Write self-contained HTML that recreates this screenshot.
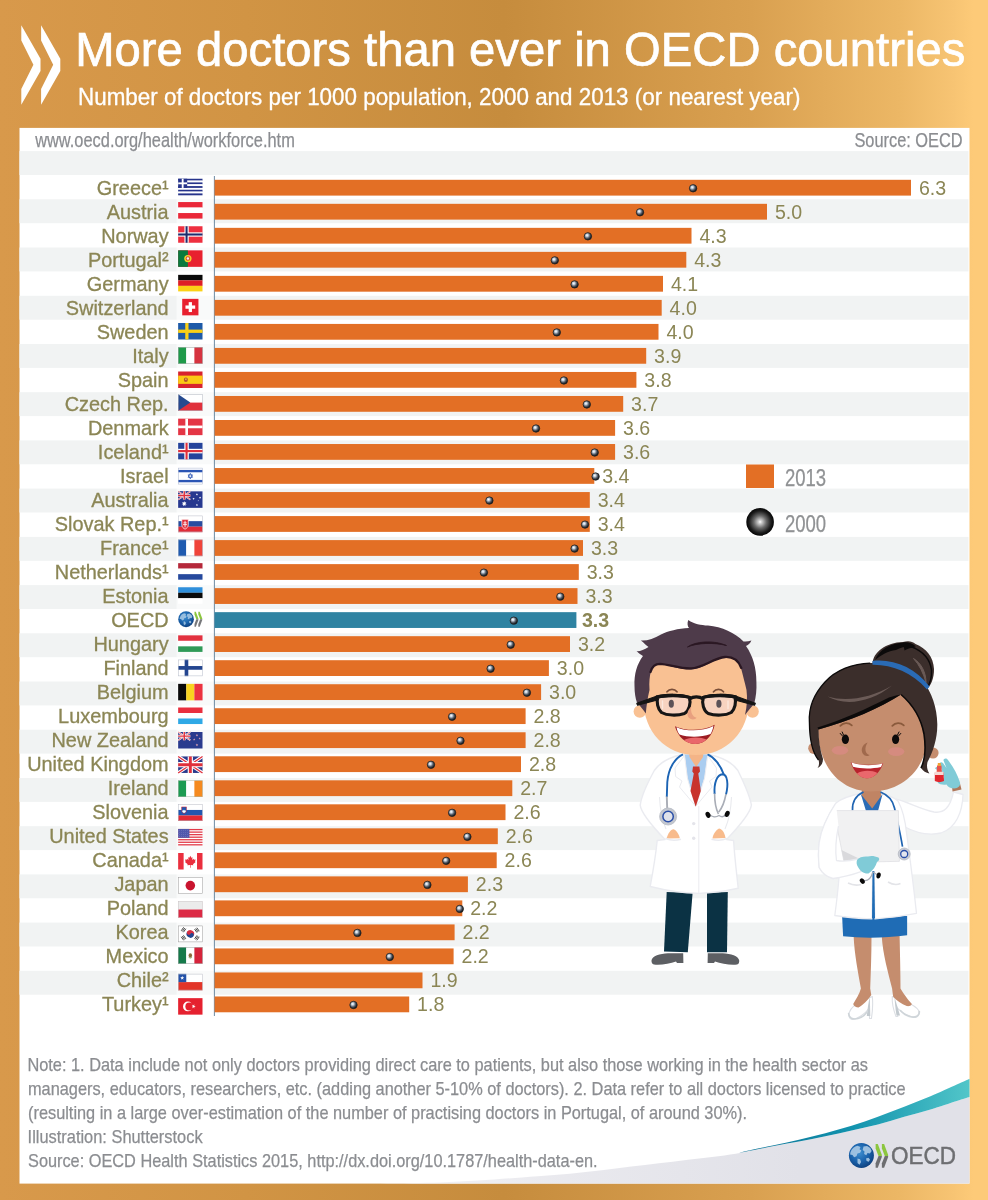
<!DOCTYPE html>
<html lang="en">
<head>
<meta charset="utf-8">
<title>More doctors than ever in OECD countries</title>
<style>
html,body{margin:0;padding:0;background:#d8994b;}
body{width:988px;height:1200px;overflow:hidden;}
svg{display:block;}
text{font-family:"Liberation Sans",sans-serif;}
.lab{font-size:19.9px;fill:#8b8655;text-anchor:end;stroke:#8b8655;stroke-width:0.3px;}
.val{font-size:19.6px;fill:#8b8655;}
.nar{fill:#8b8d91;stroke:#8b8d91;stroke-width:0.25px;}
</style>
</head>
<body>
<svg width="988" height="1200" viewBox="0 0 988 1200">
<defs>
<linearGradient id="bg" x1="0" y1="0" x2="1" y2="0">
<stop offset="0" stop-color="#d8994b"/>
<stop offset="0.25" stop-color="#d19444"/>
<stop offset="0.51" stop-color="#c68c3d"/>
<stop offset="0.76" stop-color="#d9a050"/>
<stop offset="0.91" stop-color="#ecb765"/>
<stop offset="0.965" stop-color="#f7c473"/>
<stop offset="0.985" stop-color="#fdca78"/>
<stop offset="1" stop-color="#fdca78"/>
</linearGradient>
<radialGradient id="dot" cx="0.38" cy="0.36" r="0.62">
<stop offset="0" stop-color="#ffffff"/>
<stop offset="0.25" stop-color="#c9d3de"/>
<stop offset="0.62" stop-color="#58606c"/>
<stop offset="1" stop-color="#14161a"/>
</radialGradient>
<radialGradient id="ball" cx="0.5" cy="0.5" r="0.5">
<stop offset="0" stop-color="#ffffff"/>
<stop offset="0.12" stop-color="#d0d0d0"/>
<stop offset="0.45" stop-color="#6a6a6a"/>
<stop offset="0.8" stop-color="#1c1c1c"/>
<stop offset="1" stop-color="#050505"/>
</radialGradient>
<linearGradient id="greyfade" gradientUnits="userSpaceOnUse" x1="330" y1="0" x2="800" y2="0"><stop offset="0" stop-color="#f6f6f8"/><stop offset="0.5" stop-color="#e9e9ee"/><stop offset="1" stop-color="#e1e1e8"/></linearGradient>
<linearGradient id="swoosh" x1="0" y1="0" x2="1" y2="0">
<stop offset="0" stop-color="#0d6f94"/>
<stop offset="0.5" stop-color="#1293ae"/>
<stop offset="1" stop-color="#52c6c9"/>
</linearGradient>
</defs>

<rect x="0" y="0" width="988" height="1200" fill="url(#bg)"/>
<g fill="#fff" stroke="#fff">
<path stroke="none" d="M21.3 25.3 L40.5 58.7 L40.5 70.9 L21.3 104.7 L21.3 89 L33.4 64.8 L21.3 40.5 Z"/>
<path stroke="none" d="M41.1 25.3 L60.3 58.7 L60.3 70.9 L41.1 104.7 L41.1 89 L53.2 64.8 L41.1 40.5 Z"/>
<text transform="translate(75.2 66.2) scale(1 1.035)" x="0" y="0" font-size="47.25" stroke-width="0.7">More doctors than ever in OECD countries</text>
<text transform="translate(78 104.7) scale(1 1.025)" x="0" y="0" font-size="22.42" stroke-width="0.3">Number of doctors per 1000 population, 2000 and 2013 (or nearest year)</text>
</g>

<rect x="19.5" y="127.9" width="950" height="1055.7" fill="#fff"/>
<rect x="19.5" y="151.1" width="949" height="23.9" fill="#f1f3f3"/>
<rect x="19.5" y="199.3" width="949" height="23.9" fill="#f1f3f3"/>
<rect x="19.5" y="247.5" width="949" height="23.9" fill="#f1f3f3"/>
<rect x="19.5" y="295.8" width="949" height="23.9" fill="#f1f3f3"/>
<rect x="19.5" y="344.0" width="949" height="23.9" fill="#f1f3f3"/>
<rect x="19.5" y="392.2" width="949" height="23.9" fill="#f1f3f3"/>
<rect x="19.5" y="440.4" width="949" height="23.9" fill="#f1f3f3"/>
<rect x="19.5" y="488.6" width="949" height="23.9" fill="#f1f3f3"/>
<rect x="19.5" y="536.9" width="949" height="23.9" fill="#f1f3f3"/>
<rect x="19.5" y="585.1" width="949" height="23.9" fill="#f1f3f3"/>
<rect x="19.5" y="633.3" width="949" height="23.9" fill="#f1f3f3"/>
<rect x="19.5" y="681.5" width="949" height="23.9" fill="#f1f3f3"/>
<rect x="19.5" y="729.7" width="949" height="23.9" fill="#f1f3f3"/>
<rect x="19.5" y="778.0" width="949" height="23.9" fill="#f1f3f3"/>
<rect x="19.5" y="826.2" width="949" height="23.9" fill="#f1f3f3"/>
<rect x="19.5" y="874.4" width="949" height="23.9" fill="#f1f3f3"/>
<rect x="19.5" y="922.6" width="949" height="23.9" fill="#f1f3f3"/>
<rect x="19.5" y="970.8" width="949" height="23.9" fill="#f1f3f3"/>
<text class="nar" x="35.2" y="146.8" font-size="20.8" textLength="259.6" lengthAdjust="spacingAndGlyphs">www.oecd.org/health/workforce.htm</text>
<text class="nar" x="854.4" y="146.8" font-size="20.8" textLength="108.2" lengthAdjust="spacingAndGlyphs">Source: OECD</text>
<rect x="213.8" y="176" width="1" height="840" fill="#5f7f99"/>
<rect x="214.6" y="179.80" width="696.4" height="15.8" fill="#e36f25"/>
<text class="lab" transform="translate(168.6 194.50) scale(1 1.02)">Greece¹</text>
<text class="val" transform="translate(918.9 194.50) scale(1 1.02)">6.3</text>
<circle cx="693.1" cy="188.30" r="3.7" fill="url(#dot)" stroke="#222" stroke-width="0.8"/>
<rect x="214.6" y="203.82" width="552.4" height="15.8" fill="#e36f25"/>
<text class="lab" transform="translate(168.6 218.52) scale(1 1.02)">Austria</text>
<text class="val" transform="translate(774.9 218.52) scale(1 1.02)">5.0</text>
<circle cx="640.0" cy="212.32" r="3.7" fill="url(#dot)" stroke="#222" stroke-width="0.8"/>
<rect x="214.6" y="227.84" width="476.9" height="15.8" fill="#e36f25"/>
<text class="lab" transform="translate(168.6 242.54) scale(1 1.02)">Norway</text>
<text class="val" transform="translate(699.4 242.54) scale(1 1.02)">4.3</text>
<circle cx="587.9" cy="236.34" r="3.7" fill="url(#dot)" stroke="#222" stroke-width="0.8"/>
<rect x="214.6" y="251.86" width="471.7" height="15.8" fill="#e36f25"/>
<text class="lab" transform="translate(168.6 266.56) scale(1 1.02)">Portugal²</text>
<text class="val" transform="translate(694.2 266.56) scale(1 1.02)">4.3</text>
<circle cx="554.8" cy="260.36" r="3.7" fill="url(#dot)" stroke="#222" stroke-width="0.8"/>
<rect x="214.6" y="275.88" width="448.4" height="15.8" fill="#e36f25"/>
<text class="lab" transform="translate(168.6 290.58) scale(1 1.02)">Germany</text>
<text class="val" transform="translate(670.9 290.58) scale(1 1.02)">4.1</text>
<circle cx="574.6" cy="284.38" r="3.7" fill="url(#dot)" stroke="#222" stroke-width="0.8"/>
<rect x="214.6" y="299.90" width="447.1" height="15.8" fill="#e36f25"/>
<text class="lab" transform="translate(168.6 314.60) scale(1 1.02)">Switzerland</text>
<text class="val" transform="translate(669.6 314.60) scale(1 1.02)">4.0</text>
<rect x="214.6" y="323.92" width="443.9" height="15.8" fill="#e36f25"/>
<text class="lab" transform="translate(168.6 338.62) scale(1 1.02)">Sweden</text>
<text class="val" transform="translate(666.4 338.62) scale(1 1.02)">4.0</text>
<circle cx="556.8" cy="332.42" r="3.7" fill="url(#dot)" stroke="#222" stroke-width="0.8"/>
<rect x="214.6" y="347.94" width="431.6" height="15.8" fill="#e36f25"/>
<text class="lab" transform="translate(168.6 362.64) scale(1 1.02)">Italy</text>
<text class="val" transform="translate(654.1 362.64) scale(1 1.02)">3.9</text>
<rect x="214.6" y="371.96" width="421.8" height="15.8" fill="#e36f25"/>
<text class="lab" transform="translate(168.6 386.66) scale(1 1.02)">Spain</text>
<text class="val" transform="translate(644.3 386.66) scale(1 1.02)">3.8</text>
<circle cx="563.9" cy="380.46" r="3.7" fill="url(#dot)" stroke="#222" stroke-width="0.8"/>
<rect x="214.6" y="395.98" width="408.6" height="15.8" fill="#e36f25"/>
<text class="lab" transform="translate(168.6 410.68) scale(1 1.02)">Czech Rep.</text>
<text class="val" transform="translate(631.1 410.68) scale(1 1.02)">3.7</text>
<circle cx="586.8" cy="404.48" r="3.7" fill="url(#dot)" stroke="#222" stroke-width="0.8"/>
<rect x="214.6" y="420.00" width="400.5" height="15.8" fill="#e36f25"/>
<text class="lab" transform="translate(168.6 434.70) scale(1 1.02)">Denmark</text>
<text class="val" transform="translate(623.0 434.70) scale(1 1.02)">3.6</text>
<circle cx="536.0" cy="428.50" r="3.7" fill="url(#dot)" stroke="#222" stroke-width="0.8"/>
<rect x="214.6" y="444.02" width="400.5" height="15.8" fill="#e36f25"/>
<text class="lab" transform="translate(168.6 458.72) scale(1 1.02)">Iceland¹</text>
<text class="val" transform="translate(623.0 458.72) scale(1 1.02)">3.6</text>
<circle cx="594.7" cy="452.52" r="3.7" fill="url(#dot)" stroke="#222" stroke-width="0.8"/>
<rect x="214.6" y="468.04" width="379.7" height="15.8" fill="#e36f25"/>
<text class="lab" transform="translate(168.6 482.74) scale(1 1.02)">Israel</text>
<text class="val" transform="translate(602.2 482.74) scale(1 1.02)">3.4</text>
<circle cx="595.6" cy="476.54" r="3.7" fill="url(#dot)" stroke="#222" stroke-width="0.8"/>
<rect x="214.6" y="492.06" width="375.2" height="15.8" fill="#e36f25"/>
<text class="lab" transform="translate(168.6 506.76) scale(1 1.02)">Australia</text>
<text class="val" transform="translate(597.7 506.76) scale(1 1.02)">3.4</text>
<circle cx="489.4" cy="500.56" r="3.7" fill="url(#dot)" stroke="#222" stroke-width="0.8"/>
<rect x="214.6" y="516.08" width="375.2" height="15.8" fill="#e36f25"/>
<text class="lab" transform="translate(168.6 530.78) scale(1 1.02)">Slovak Rep.¹</text>
<text class="val" transform="translate(597.7 530.78) scale(1 1.02)">3.4</text>
<circle cx="585.0" cy="524.58" r="3.7" fill="url(#dot)" stroke="#222" stroke-width="0.8"/>
<rect x="214.6" y="540.10" width="368.4" height="15.8" fill="#e36f25"/>
<text class="lab" transform="translate(168.6 554.80) scale(1 1.02)">France¹</text>
<text class="val" transform="translate(590.9 554.80) scale(1 1.02)">3.3</text>
<circle cx="574.6" cy="548.60" r="3.7" fill="url(#dot)" stroke="#222" stroke-width="0.8"/>
<rect x="214.6" y="564.12" width="364.2" height="15.8" fill="#e36f25"/>
<text class="lab" transform="translate(168.6 578.82) scale(1 1.02)">Netherlands¹</text>
<text class="val" transform="translate(586.7 578.82) scale(1 1.02)">3.3</text>
<circle cx="483.9" cy="572.62" r="3.7" fill="url(#dot)" stroke="#222" stroke-width="0.8"/>
<rect x="214.6" y="588.14" width="362.9" height="15.8" fill="#e36f25"/>
<text class="lab" transform="translate(168.6 602.84) scale(1 1.02)">Estonia</text>
<text class="val" transform="translate(585.4 602.84) scale(1 1.02)">3.3</text>
<circle cx="560.3" cy="596.64" r="3.7" fill="url(#dot)" stroke="#222" stroke-width="0.8"/>
<rect x="214.6" y="612.16" width="361.8" height="15.8" fill="#2f83a2"/>
<text class="lab" transform="translate(168.6 626.86) scale(1 1.02)">OECD</text>
<text class="val" transform="translate(581.9 626.86) scale(1 1.02)" font-weight="bold">3.3</text>
<circle cx="513.8" cy="620.66" r="3.7" fill="url(#dot)" stroke="#222" stroke-width="0.8"/>
<rect x="214.6" y="636.18" width="355.4" height="15.8" fill="#e36f25"/>
<text class="lab" transform="translate(168.6 650.88) scale(1 1.02)">Hungary</text>
<text class="val" transform="translate(577.9 650.88) scale(1 1.02)">3.2</text>
<circle cx="510.7" cy="644.68" r="3.7" fill="url(#dot)" stroke="#222" stroke-width="0.8"/>
<rect x="214.6" y="660.20" width="334.3" height="15.8" fill="#e36f25"/>
<text class="lab" transform="translate(168.6 674.90) scale(1 1.02)">Finland</text>
<text class="val" transform="translate(556.8 674.90) scale(1 1.02)">3.0</text>
<circle cx="490.6" cy="668.70" r="3.7" fill="url(#dot)" stroke="#222" stroke-width="0.8"/>
<rect x="214.6" y="684.22" width="326.5" height="15.8" fill="#e36f25"/>
<text class="lab" transform="translate(168.6 698.92) scale(1 1.02)">Belgium</text>
<text class="val" transform="translate(549.0 698.92) scale(1 1.02)">3.0</text>
<circle cx="526.9" cy="692.72" r="3.7" fill="url(#dot)" stroke="#222" stroke-width="0.8"/>
<rect x="214.6" y="708.24" width="311.0" height="15.8" fill="#e36f25"/>
<text class="lab" transform="translate(168.6 722.94) scale(1 1.02)">Luxembourg</text>
<text class="val" transform="translate(533.5 722.94) scale(1 1.02)">2.8</text>
<circle cx="452.1" cy="716.74" r="3.7" fill="url(#dot)" stroke="#222" stroke-width="0.8"/>
<rect x="214.6" y="732.26" width="311.0" height="15.8" fill="#e36f25"/>
<text class="lab" transform="translate(168.6 746.96) scale(1 1.02)">New Zealand</text>
<text class="val" transform="translate(533.5 746.96) scale(1 1.02)">2.8</text>
<circle cx="460.5" cy="740.76" r="3.7" fill="url(#dot)" stroke="#222" stroke-width="0.8"/>
<rect x="214.6" y="756.28" width="306.4" height="15.8" fill="#e36f25"/>
<text class="lab" transform="translate(168.6 770.98) scale(1 1.02)">United Kingdom</text>
<text class="val" transform="translate(528.9 770.98) scale(1 1.02)">2.8</text>
<circle cx="431.0" cy="764.78" r="3.7" fill="url(#dot)" stroke="#222" stroke-width="0.8"/>
<rect x="214.6" y="780.30" width="297.7" height="15.8" fill="#e36f25"/>
<text class="lab" transform="translate(168.6 795.00) scale(1 1.02)">Ireland</text>
<text class="val" transform="translate(520.2 795.00) scale(1 1.02)">2.7</text>
<rect x="214.6" y="804.32" width="290.9" height="15.8" fill="#e36f25"/>
<text class="lab" transform="translate(168.6 819.02) scale(1 1.02)">Slovenia</text>
<text class="val" transform="translate(513.4 819.02) scale(1 1.02)">2.6</text>
<circle cx="452.1" cy="812.82" r="3.7" fill="url(#dot)" stroke="#222" stroke-width="0.8"/>
<rect x="214.6" y="828.34" width="283.2" height="15.8" fill="#e36f25"/>
<text class="lab" transform="translate(168.6 843.04) scale(1 1.02)">United States</text>
<text class="val" transform="translate(505.7 843.04) scale(1 1.02)">2.6</text>
<circle cx="467.4" cy="836.84" r="3.7" fill="url(#dot)" stroke="#222" stroke-width="0.8"/>
<rect x="214.6" y="852.36" width="282.1" height="15.8" fill="#e36f25"/>
<text class="lab" transform="translate(168.6 867.06) scale(1 1.02)">Canada¹</text>
<text class="val" transform="translate(504.6 867.06) scale(1 1.02)">2.6</text>
<circle cx="446.2" cy="860.86" r="3.7" fill="url(#dot)" stroke="#222" stroke-width="0.8"/>
<rect x="214.6" y="876.38" width="253.3" height="15.8" fill="#e36f25"/>
<text class="lab" transform="translate(168.6 891.08) scale(1 1.02)">Japan</text>
<text class="val" transform="translate(475.8 891.08) scale(1 1.02)">2.3</text>
<circle cx="427.4" cy="884.88" r="3.7" fill="url(#dot)" stroke="#222" stroke-width="0.8"/>
<rect x="214.6" y="900.40" width="247.7" height="15.8" fill="#e36f25"/>
<text class="lab" transform="translate(168.6 915.10) scale(1 1.02)">Poland</text>
<text class="val" transform="translate(470.2 915.10) scale(1 1.02)">2.2</text>
<circle cx="459.8" cy="908.90" r="3.7" fill="url(#dot)" stroke="#222" stroke-width="0.8"/>
<rect x="214.6" y="924.42" width="240.0" height="15.8" fill="#e36f25"/>
<text class="lab" transform="translate(168.6 939.12) scale(1 1.02)">Korea</text>
<text class="val" transform="translate(462.5 939.12) scale(1 1.02)">2.2</text>
<circle cx="357.4" cy="932.92" r="3.7" fill="url(#dot)" stroke="#222" stroke-width="0.8"/>
<rect x="214.6" y="948.44" width="239.0" height="15.8" fill="#e36f25"/>
<text class="lab" transform="translate(168.6 963.14) scale(1 1.02)">Mexico</text>
<text class="val" transform="translate(461.5 963.14) scale(1 1.02)">2.2</text>
<circle cx="389.8" cy="956.94" r="3.7" fill="url(#dot)" stroke="#222" stroke-width="0.8"/>
<rect x="214.6" y="972.46" width="207.9" height="15.8" fill="#e36f25"/>
<text class="lab" transform="translate(168.6 987.16) scale(1 1.02)">Chile²</text>
<text class="val" transform="translate(430.4 987.16) scale(1 1.02)">1.9</text>
<rect x="214.6" y="996.48" width="194.6" height="15.8" fill="#e36f25"/>
<text class="lab" transform="translate(168.6 1011.18) scale(1 1.02)">Turkey¹</text>
<text class="val" transform="translate(417.1 1011.18) scale(1 1.02)">1.8</text>
<circle cx="353.5" cy="1004.98" r="3.7" fill="url(#dot)" stroke="#222" stroke-width="0.8"/>
<rect x="176.6" y="175.5" width="37.2" height="841" fill="#fff" opacity="0.6"/>
<g>
<g transform="translate(178.15 178.75) scale(1.0146 1.031)"><rect x="0" y="0.000" width="24" height="1.828" fill="#27348b"/><rect x="0" y="1.778" width="24" height="1.828" fill="#fff"/><rect x="0" y="3.556" width="24" height="1.828" fill="#27348b"/><rect x="0" y="5.333" width="24" height="1.828" fill="#fff"/><rect x="0" y="7.111" width="24" height="1.828" fill="#27348b"/><rect x="0" y="8.889" width="24" height="1.828" fill="#fff"/><rect x="0" y="10.667" width="24" height="1.828" fill="#27348b"/><rect x="0" y="12.444" width="24" height="1.828" fill="#fff"/><rect x="0" y="14.222" width="24" height="1.828" fill="#27348b"/><rect width="8.9" height="8.9" fill="#27348b"/><rect x="3.55" y="0" width="1.8" height="8.9" fill="#fff"/><rect x="0" y="3.55" width="8.9" height="1.8" fill="#fff"/></g>
<g transform="translate(178.15 202.05) scale(1.0146 1.031)"><rect x="0" y="0.000" width="24" height="5.383" fill="#ea2839"/><rect x="0" y="5.333" width="24" height="5.383" fill="#fff"/><rect x="0" y="10.667" width="24" height="5.383" fill="#ea2839"/></g>
<g transform="translate(178.15 226.25) scale(1.0146 1.031)"><rect width="24" height="16" fill="#ee2f3f"/><rect x="6.20" y="0" width="4.20" height="16" fill="#fff"/><rect x="0" y="5.90" width="24" height="4.20" fill="#fff"/><rect x="7.30" y="0" width="2.00" height="16" fill="#1f2d6e"/><rect x="0" y="7.00" width="24" height="2.00" fill="#1f2d6e"/></g>
<g transform="translate(178.15 250.35) scale(1.0146 1.031)"><rect width="24" height="16" fill="#e8212e"/><rect width="9.6" height="16" fill="#0a7a3e"/><circle cx="9.6" cy="8" r="3.6" fill="#f3d22b"/><circle cx="9.6" cy="8" r="2.2" fill="#d9472f"/><circle cx="9.6" cy="8" r="1.2" fill="#f4f4f4"/></g>
<g transform="translate(178.15 274.85) scale(1.0146 1.031)"><rect x="0" y="0.000" width="24" height="5.383" fill="#0a0a0a"/><rect x="0" y="5.333" width="24" height="5.383" fill="#de1f26"/><rect x="0" y="10.667" width="24" height="5.383" fill="#fbd116"/></g>
<g transform="translate(178.15 298.85) scale(1.0146 1.031)"><rect x="4" y="0" width="16" height="16" fill="#e8202f"/><rect x="10.4" y="3.2" width="3.2" height="9.6" fill="#fff"/><rect x="7.2" y="6.4" width="9.6" height="3.2" fill="#fff"/></g>
<g transform="translate(178.15 323.00) scale(1.0146 1.031)"><rect width="24" height="16" fill="#1e5aa8"/><rect x="7.00" y="0" width="3.20" height="16" fill="#f9cf17"/><rect x="0" y="6.40" width="24" height="3.20" fill="#f9cf17"/></g>
<g transform="translate(178.15 347.25) scale(1.0146 1.031)"><rect x="0.000" y="0" width="8.050" height="16" fill="#1f9a4a"/><rect x="8.000" y="0" width="8.050" height="16" fill="#fff"/><rect x="16.000" y="0" width="8.050" height="16" fill="#d63340"/><rect x="0.25" y="0.25" width="23.5" height="15.5" fill="none" stroke="#9aa3a0" stroke-width="0.5"/></g>
<g transform="translate(178.15 371.50) scale(1.0146 1.031)"><rect width="24" height="16" fill="#d8232e"/><rect y="4" width="24" height="8" fill="#fbc914"/><ellipse cx="7.6" cy="8" rx="2" ry="2.3" fill="#b5562c"/><circle cx="7.6" cy="7.4" r="0.9" fill="#e9a84a"/></g>
<g transform="translate(178.15 394.35) scale(1.0146 1.031)"><rect width="24" height="8" fill="#fff"/><rect y="8" width="24" height="8" fill="#e0303c"/><polygon points="0,0 12,8 0,16" fill="#264a8f"/><rect x="0.25" y="0.25" width="23.5" height="15.5" fill="none" stroke="#b0b6c0" stroke-width="0.5"/></g>
<g transform="translate(178.15 418.65) scale(1.0146 1.031)"><rect width="24" height="16" fill="#e43545"/><rect x="7.10" y="0" width="2.60" height="16" fill="#fff"/><rect x="0" y="6.70" width="24" height="2.60" fill="#fff"/></g>
<g transform="translate(178.15 442.85) scale(1.0146 1.031)"><rect width="24" height="16" fill="#24439b"/><rect x="6.10" y="0" width="4.40" height="16" fill="#fff"/><rect x="0" y="5.80" width="24" height="4.40" fill="#fff"/><rect x="7.25" y="0" width="2.10" height="16" fill="#e0303c"/><rect x="0" y="6.95" width="24" height="2.10" fill="#e0303c"/></g>
<g transform="translate(178.15 467.85) scale(1.0146 1.031)"><rect width="24" height="16" fill="#fff"/><rect y="2" width="24" height="2.3" fill="#2b55b4"/><rect y="11.7" width="24" height="2.3" fill="#2b55b4"/><polygon points="12,5.3 14.2,9.2 9.8,9.2" fill="none" stroke="#2b55b4" stroke-width="0.7"/><polygon points="12,10.7 14.2,6.8 9.8,6.8" fill="none" stroke="#2b55b4" stroke-width="0.7"/><rect x="0.25" y="0.25" width="23.5" height="15.5" fill="none" stroke="#a9b4cf" stroke-width="0.5"/></g>
<g transform="translate(178.15 491.35) scale(1.0146 1.031)"><rect width="24" height="16" fill="#27388f"/><g><rect width="12" height="8" fill="#2b3a8c"/><path d="M0 0L12 8 M12 0L0 8" stroke="#fff" stroke-width="1.60"/><path d="M0 0L12 8 M12 0L0 8" stroke="#e0303c" stroke-width="0.64"/><path d="M6 0V8 M0 4H12" stroke="#fff" stroke-width="2.56"/><path d="M6 0V8 M0 4H12" stroke="#e0303c" stroke-width="1.44"/></g><polygon points="6.00,9.40 6.56,10.83 8.03,10.38 7.27,11.71 8.53,12.58 7.02,12.81 7.13,14.34 6.00,13.30 4.87,14.34 4.98,12.81 3.47,12.58 4.73,11.71 3.97,10.38 5.44,10.83" fill="#fff"/><polygon points="18.50,1.90 18.74,2.50 19.36,2.31 19.04,2.88 19.57,3.24 18.93,3.34 18.98,3.99 18.50,3.55 18.02,3.99 18.07,3.34 17.43,3.24 17.96,2.88 17.64,2.31 18.26,2.50" fill="#fff"/><polygon points="18.50,12.10 18.74,12.70 19.36,12.51 19.04,13.08 19.57,13.44 18.93,13.54 18.98,14.19 18.50,13.75 18.02,14.19 18.07,13.54 17.43,13.44 17.96,13.08 17.64,12.51 18.26,12.70" fill="#fff"/><polygon points="15.20,6.10 15.44,6.70 16.06,6.51 15.74,7.08 16.27,7.44 15.63,7.54 15.68,8.19 15.20,7.75 14.72,8.19 14.77,7.54 14.13,7.44 14.66,7.08 14.34,6.51 14.96,6.70" fill="#fff"/><polygon points="21.60,5.10 21.84,5.70 22.46,5.51 22.14,6.08 22.67,6.44 22.03,6.54 22.08,7.19 21.60,6.75 21.12,7.19 21.17,6.54 20.53,6.44 21.06,6.08 20.74,5.51 21.36,5.70" fill="#fff"/><polygon points="19.80,8.40 19.98,8.76 20.37,8.81 20.09,9.09 20.15,9.49 19.80,9.30 19.45,9.49 19.51,9.09 19.23,8.81 19.62,8.76" fill="#fff"/></g>
<g transform="translate(178.15 515.65) scale(1.0146 1.031)"><rect x="0" y="0.000" width="24" height="5.383" fill="#fff"/><rect x="0" y="5.333" width="24" height="5.383" fill="#2a4da0"/><rect x="0" y="10.667" width="24" height="5.383" fill="#e12c38"/><path d="M3.6 3.6h6.4v5.2c0 2.4-1.8 3.6-3.2 4.3-1.4-.7-3.2-1.9-3.2-4.3z" fill="#e12c38" stroke="#fff" stroke-width="0.7"/><path d="M6.8 5v6.4M5.2 7h3.2M4.8 8.7h4" stroke="#fff" stroke-width="0.8" fill="none"/><rect x="0.25" y="0.25" width="23.5" height="15.5" fill="none" stroke="#b9bcc6" stroke-width="0.5"/></g>
<g transform="translate(178.15 539.65) scale(1.0146 1.031)"><rect x="0.000" y="0" width="8.050" height="16" fill="#1f5bb0"/><rect x="8.000" y="0" width="8.050" height="16" fill="#fff"/><rect x="16.000" y="0" width="8.050" height="16" fill="#f0443a"/><rect x="0.25" y="0.25" width="23.5" height="15.5" fill="none" stroke="#a8b2c4" stroke-width="0.5"/></g>
<g transform="translate(178.15 563.15) scale(1.0146 1.031)"><rect x="0" y="0.000" width="24" height="5.383" fill="#b5283a"/><rect x="0" y="5.333" width="24" height="5.383" fill="#fff"/><rect x="0" y="10.667" width="24" height="5.383" fill="#26499d"/></g>
<g transform="translate(178.15 587.25) scale(1.0146 1.031)"><rect x="0" y="0.000" width="24" height="5.383" fill="#2f8fdb"/><rect x="0" y="5.333" width="24" height="5.383" fill="#0a0a0a"/><rect x="0" y="10.667" width="24" height="5.383" fill="#fff"/></g>
<g transform="translate(178.15 610.95) scale(1.0146 1.031)"><defs><radialGradient id="gl" cx="0.42" cy="0.38" r="0.68"><stop offset="0" stop-color="#3f8fd0"/><stop offset="0.55" stop-color="#1a62ab"/><stop offset="1" stop-color="#0c3b78"/></radialGradient></defs><circle cx="7.8" cy="8" r="7.7" fill="url(#gl)"/><path d="M1.8 6.2c.8-2.200 2.400-3.600 4.200-4l1.800.8-.6 1.400 1.100.7-.7 1.500-1.600.4-.6 1.700-1.500.6-1-1.400-1.500-.200zM9 2.900l2.200-.4 2 1.400.9 1.800-1.100 1.500-1.500-.4-.7 1.500-1.400-.7.200-1.600-1.100-1zM5.400 10l1.600.5.600 1.700-1 1.600-1.200-1zM10.600 10l1.500-.5 1 1.100-.700 1.400-1.400-.400z" fill="#a9c9e4" opacity="0.85"/><g transform="translate(16.100 0.700) scale(0.620)"><path d="M0 0 L2.200 0 L6.200 10.600 L6.200 11.800 L2.900 11.800 L0 4.400 Z" fill="#8cc63f"/><path d="M2.900 11.800 L6.200 11.800 L6.200 13 L2.200 23.600 L0 23.600 L0 19.200 Z" fill="#77787b"/></g><g transform="translate(19.900 0.700) scale(0.620)"><path d="M0 0 L2.200 0 L6.200 10.600 L6.200 11.800 L2.900 11.800 L0 4.400 Z" fill="#8cc63f"/><path d="M2.900 11.800 L6.200 11.800 L6.200 13 L2.200 23.600 L0 23.600 L0 19.200 Z" fill="#77787b"/></g></g>
<g transform="translate(178.15 635.35) scale(1.0146 1.031)"><rect x="0" y="0.000" width="24" height="5.383" fill="#e2313f"/><rect x="0" y="5.333" width="24" height="5.383" fill="#fff"/><rect x="0" y="10.667" width="24" height="5.383" fill="#2f9a57"/></g>
<g transform="translate(178.15 659.65) scale(1.0146 1.031)"><rect width="24" height="16" fill="#fff"/><rect x="6.40" y="0" width="3.60" height="16" fill="#23458f"/><rect x="0" y="6.20" width="24" height="3.60" fill="#23458f"/><rect x="0.25" y="0.25" width="23.5" height="15.5" fill="none" stroke="#b4bac8" stroke-width="0.5"/></g>
<g transform="translate(178.15 683.85) scale(1.0146 1.031)"><rect x="0.000" y="0" width="8.050" height="16" fill="#0a0a0a"/><rect x="8.000" y="0" width="8.050" height="16" fill="#f9d320"/><rect x="16.000" y="0" width="8.050" height="16" fill="#ec3340"/></g>
<g transform="translate(178.15 707.50) scale(1.0146 1.031)"><rect x="0" y="0.000" width="24" height="5.383" fill="#e9303f"/><rect x="0" y="5.333" width="24" height="5.383" fill="#fff"/><rect x="0" y="10.667" width="24" height="5.383" fill="#2fa9e6"/></g>
<g transform="translate(178.15 732.00) scale(1.0146 1.031)"><rect width="24" height="16" fill="#2a3b8e"/><g><rect width="12" height="8" fill="#2b3a8c"/><path d="M0 0L12 8 M12 0L0 8" stroke="#fff" stroke-width="1.60"/><path d="M0 0L12 8 M12 0L0 8" stroke="#e0303c" stroke-width="0.64"/><path d="M6 0V8 M0 4H12" stroke="#fff" stroke-width="2.56"/><path d="M6 0V8 M0 4H12" stroke="#e0303c" stroke-width="1.44"/></g><polygon points="18.50,1.90 18.81,2.78 19.74,2.80 18.99,3.36 19.26,4.25 18.50,3.72 17.74,4.25 18.01,3.36 17.26,2.80 18.19,2.78" fill="#e9a9b4"/><polygon points="18.50,11.20 18.83,12.15 19.83,12.17 19.03,12.77 19.32,13.73 18.50,13.16 17.68,13.73 17.97,12.77 17.17,12.17 18.17,12.15" fill="#e9a9b4"/><polygon points="15.80,6.00 16.08,6.81 16.94,6.83 16.26,7.35 16.51,8.17 15.80,7.68 15.09,8.17 15.34,7.35 14.66,6.83 15.52,6.81" fill="#e9a9b4"/><polygon points="21.20,5.20 21.48,6.01 22.34,6.03 21.66,6.55 21.91,7.37 21.20,6.88 20.49,7.37 20.74,6.55 20.06,6.03 20.92,6.01" fill="#e9a9b4"/></g>
<g transform="translate(178.15 756.45) scale(1.0146 1.031)"><g><rect width="24" height="16" fill="#2b3a8c"/><path d="M0 0L24 16 M24 0L0 16" stroke="#fff" stroke-width="3.20"/><path d="M0 0L24 16 M24 0L0 16" stroke="#e0303c" stroke-width="1.28"/><path d="M12 0V16 M0 8H24" stroke="#fff" stroke-width="5.12"/><path d="M12 0V16 M0 8H24" stroke="#e0303c" stroke-width="2.88"/></g></g>
<g transform="translate(178.15 780.50) scale(1.0146 1.031)"><rect x="0.000" y="0" width="8.050" height="16" fill="#1c9b52"/><rect x="8.000" y="0" width="8.050" height="16" fill="#fff"/><rect x="16.000" y="0" width="8.050" height="16" fill="#f58a1f"/><rect x="0.25" y="0.25" width="23.5" height="15.5" fill="none" stroke="#a9b5aa" stroke-width="0.5"/></g>
<g transform="translate(178.15 804.45) scale(1.0146 1.031)"><rect x="0" y="0.000" width="24" height="5.383" fill="#fff"/><rect x="0" y="5.333" width="24" height="5.383" fill="#2257b0"/><rect x="0" y="10.667" width="24" height="5.383" fill="#e22a35"/><path d="M3.4 2.4h4.8v3.6c0 1.7-1.4 2.6-2.4 3-1-.4-2.4-1.3-2.4-3z" fill="#2257b0" stroke="#e22a35" stroke-width="0.5"/><path d="M3.9 6.6l1-1.4.9 1 .9-1 1 1.4c-.4.9-1.2 1.5-1.9 1.8-.7-.3-1.5-.9-1.9-1.8z" fill="#fff"/><rect x="0.25" y="0.25" width="23.5" height="15.5" fill="none" stroke="#b9bcc6" stroke-width="0.5"/></g>
<g transform="translate(178.15 828.95) scale(1.0146 1.031)"><rect width="24" height="16" fill="#fff"/><rect y="0.000" width="24" height="1.231" fill="#e23a48"/><rect y="2.462" width="24" height="1.231" fill="#e23a48"/><rect y="4.923" width="24" height="1.231" fill="#e23a48"/><rect y="7.385" width="24" height="1.231" fill="#e23a48"/><rect y="9.846" width="24" height="1.231" fill="#e23a48"/><rect y="12.308" width="24" height="1.231" fill="#e23a48"/><rect y="14.769" width="24" height="1.231" fill="#e23a48"/><rect width="11.1" height="8.6" fill="#5158ac"/><g fill="#7d83c4"><circle cx="1.4" cy="1.3" r="0.45"/><circle cx="3.3" cy="1.3" r="0.45"/><circle cx="5.3" cy="1.3" r="0.45"/><circle cx="7.2" cy="1.3" r="0.45"/><circle cx="9.2" cy="1.3" r="0.45"/><circle cx="1.4" cy="3.3" r="0.45"/><circle cx="3.3" cy="3.3" r="0.45"/><circle cx="5.3" cy="3.3" r="0.45"/><circle cx="7.2" cy="3.3" r="0.45"/><circle cx="9.2" cy="3.3" r="0.45"/><circle cx="1.4" cy="5.3" r="0.45"/><circle cx="3.3" cy="5.3" r="0.45"/><circle cx="5.3" cy="5.3" r="0.45"/><circle cx="7.2" cy="5.3" r="0.45"/><circle cx="9.2" cy="5.3" r="0.45"/><circle cx="1.4" cy="7.3" r="0.45"/><circle cx="3.3" cy="7.3" r="0.45"/><circle cx="5.3" cy="7.3" r="0.45"/><circle cx="7.2" cy="7.3" r="0.45"/><circle cx="9.2" cy="7.3" r="0.45"/></g></g>
<g transform="translate(178.15 853.00) scale(1.0146 1.031)"><rect width="24" height="16" fill="#fff"/><rect width="5.4" height="16" fill="#ea2f3e"/><rect x="18.6" width="5.4" height="16" fill="#ea2f3e"/><path d="M12 2.6l1 2 1.2-.5-.5 2.8 1.5-1.4.4 1 1.7-.3-.7 2 .7.5-2.7 2.2.4 1.1-2.7-.4v2.6h-.6v-2.6l-2.7.4.4-1.1-2.7-2.2.7-.5-.7-2 1.7.3.4-1 1.5 1.4-.5-2.8 1.200.500z" fill="#ea2f3e"/></g>
<g transform="translate(178.15 877.35) scale(1.0146 1.031)"><rect width="24" height="16" fill="#fff"/><circle cx="12" cy="8" r="4.7" fill="#c9142f"/><rect x="0.25" y="0.25" width="23.5" height="15.5" fill="none" stroke="#9a9a9a" stroke-width="0.5"/></g>
<g transform="translate(178.15 901.25) scale(1.0146 1.031)"><rect width="24" height="8" fill="#ebebeb"/><rect y="8" width="24" height="8" fill="#dc2a45"/><rect x="0.25" y="0.25" width="23.5" height="15.5" fill="none" stroke="#c9c2c4" stroke-width="0.5"/></g>
<g transform="translate(178.15 925.65) scale(1.0146 1.031)"><rect width="24" height="16" fill="#fff"/><path d="M8.3 8a3.7 3.7 0 0 1 7.4 0z" fill="#d62f42" transform="rotate(33 12 8)"/><path d="M8.3 8a3.7 3.7 0 0 0 7.4 0z" fill="#23478f" transform="rotate(33 12 8)"/><g transform="rotate(33 12 8)"><circle cx="10.15" cy="8" r="1.85" fill="#d62f42"/><circle cx="13.85" cy="8" r="1.85" fill="#23478f"/></g><g stroke="#222" stroke-width="0.8"><path d="M3.6 5.6l2.4-3.4M4.7 6.3l2.4-3.4M5.8 7l2.4-3.400" transform="translate(-0.6 -0.6)"/><path d="M16.400 12.400l2.400-3.400M17.500 13.100l2.400-3.400M18.600 13.800l2.400-3.400" transform="translate(-0.2 0.400)"/><path d="M16.400 3.600l2.400 3.400M17.500 2.900l2.400 3.400M18.600 2.200l2.400 3.400" transform="translate(-0.2 -0.2)"/><path d="M3.600 10.400l2.400 3.400M4.700 9.700l2.400 3.400M5.800 9l2.400 3.400" transform="translate(-0.600 0.400)"/></g><rect x="0.25" y="0.25" width="23.5" height="15.5" fill="none" stroke="#9a9a9a" stroke-width="0.5"/></g>
<g transform="translate(178.15 947.25) scale(1.0146 1.031)"><rect x="0.000" y="0" width="8.050" height="16" fill="#157a4a"/><rect x="8.000" y="0" width="8.050" height="16" fill="#fff"/><rect x="16.000" y="0" width="8.050" height="16" fill="#d6243b"/><ellipse cx="12" cy="8" rx="1.7" ry="2.1" fill="#8a6a3c"/><path d="M10.300 9.800q1.700 1.600 3.400 0" stroke="#6a8f3a" stroke-width="0.6" fill="none"/><rect x="0.25" y="0.25" width="23.5" height="15.5" fill="none" stroke="#9aa3a0" stroke-width="0.5"/></g>
<g transform="translate(178.15 973.85) scale(1.0146 1.031)"><rect width="24" height="8" fill="#fff"/><rect y="8" width="24" height="8" fill="#e23528"/><rect width="8" height="8" fill="#2452a8"/><polygon points="4.00,1.90 4.49,3.32 6.00,3.35 4.80,4.26 5.23,5.70 4.00,4.84 2.77,5.70 3.20,4.26 2.00,3.35 3.51,3.32" fill="#fff"/><rect x="0.25" y="0.25" width="23.5" height="15.5" fill="none" stroke="#b9bcc6" stroke-width="0.5"/></g>
<g transform="translate(178.15 998.15) scale(1.0146 1.031)"><rect width="24" height="16" fill="#e5212f"/><circle cx="9.6" cy="8" r="4.8" fill="#fff"/><circle cx="11" cy="8" r="3.9" fill="#e5212f"/><polygon points="15.85,6.00 15.88,7.51 17.30,8.00 15.88,8.49 15.85,10.00 14.94,8.80 13.50,9.23 14.36,8.00 13.50,6.77 14.94,7.20" fill="#fff"/></g>
</g>
<rect x="746" y="464.5" width="28" height="23.5" fill="#e36f25"/>
<circle cx="760.1" cy="521.9" r="13.8" fill="url(#ball)"/>
<text class="nar" x="784.9" y="485.9" font-size="23.8" textLength="41.2" lengthAdjust="spacingAndGlyphs" style="fill:#909294;stroke:#909294">2013</text>
<text class="nar" x="784.9" y="532.1" font-size="23.8" textLength="41.2" lengthAdjust="spacingAndGlyphs" style="fill:#909294;stroke:#909294">2000</text>
<g id="male">
<!-- trousers -->
<path d="M666.7 892 L692.6 893 L687.8 952.2 L664 951.6 Z" fill="#0b3244"/>
<path d="M707 893 L727.8 892 L727 952.2 L707 952.2 Z" fill="#0b3244"/>
<!-- shoes -->
<path d="M651.5 960.5 C652 956 660 953.6 668 953.2 L683.2 953.2 L683.4 963 L677 963 L676 961.6 C670 964 660 965.4 654 964.6 C652 964 651.4 962.4 651.500 960.500 Z" fill="#5d5f63"/>
<path d="M739.2 960.5 C738.7 956 730.7 953.6 722.7 953.2 L707.8 953.2 L707.6 963 L714 963 L715 961.6 C721 964 731 965.4 737 964.6 C739 964 739.3 962.4 739.200 960.500 Z" fill="#5d5f63"/>
<!-- coat -->
<path d="M682 754.5 C671 757 660 762 654.3 770.5 C648 782 641.5 796 640.2 805.2 C641 812 652 826 665 839.5 L657.2 840.5 C655.5 858 652.5 874 650.2 886.5 C664 890 682 893 698.8 893.4 C712 893 726 891 738.2 888.3 C736.5 872 734.5 856 733.6 840.5 L726.6 839.5 C739.5 826 750.5 812 751.4 805.2 C750 796 743.500 782 737.9 770.5 C732 762 721 757 708.500 754.500 Z" fill="#ffffff" stroke="#eaebf0" stroke-width="1.4" stroke-linejoin="round"/>
<!-- arm inner lines -->
<path d="M659.500 797 C660 808 662 820 666 829" fill="none" stroke="#e9eaee" stroke-width="1.1"/>
<path d="M731.500 797 C731 808 729 820 725 829" fill="none" stroke="#e9eaee" stroke-width="1.1"/>
<path d="M698.800 806 L698.800 893" fill="none" stroke="#ececf0" stroke-width="1"/>
<!-- shirt + neck -->
<path d="M684.600 754.500 L707.600 754.500 L704.500 778 L701 789 L695.700 806 L690.500 789 L687.400 778 Z" fill="#aacdf0"/>
<path d="M689 751 L703.500 751 L703 757 L696.100 767 L689.500 757 Z" fill="#f4b487"/>
<!-- lapels -->
<path d="M684.500 755.500 L687.400 778 L695.500 806 L679.500 787 L682 781 L675.600 776.500 L675 768 Z" fill="#ffffff" stroke="#eaebf0" stroke-width="1"/>
<path d="M707.700 755.500 L704.600 778 L695.900 806 L712 787 L709.500 781 L716 776.500 L716.500 768 Z" fill="#ffffff" stroke="#eaebf0" stroke-width="1"/>
<!-- tie -->
<path d="M693 766.600 L699.400 766.600 L700 771.600 L698.300 773.600 L700.800 791 L695.700 806.800 L690.500 791 L693.800 773.600 L692.300 771.600 Z" fill="#c8342d"/>
<!-- stethoscope -->
<path d="M683 754.300 C675 758 668.500 768 667.300 782 L666.800 797" fill="none" stroke="#1c64b4" stroke-width="1.900"/>
<path d="M666.800 796.500 L667.200 808.500" fill="none" stroke="#a9adb6" stroke-width="1.900"/>
<circle cx="668.100" cy="816.500" r="8.500" fill="#c3c7cf" stroke="#b6bac3" stroke-width="0.800"/>
<circle cx="668.100" cy="816.500" r="5.200" fill="#dfe2ea" stroke="#2a4fa8" stroke-width="1.500"/>
<path d="M707.500 754.300 C714 757 720.500 765 723.800 774.500" fill="none" stroke="#1c64b4" stroke-width="1.900"/>
<path d="M714.600 794 C713.800 783 717 774.600 722.500 774.300 C727.500 774.500 728.600 784 726 794.600" fill="none" stroke="#1c64b4" stroke-width="1.900"/>
<path d="M714.600 793.500 C714.600 802 716 809 718.400 814 M726 794 C724.500 802 722 808 718.800 812" fill="none" stroke="#a9adb6" stroke-width="1.600"/>
<path d="M709.500 814.600 C712 817 716 817.500 719 815.500 C721.500 817.300 724.500 816.500 726.500 814.300" fill="none" stroke="#a9adb6" stroke-width="1.400"/>
<ellipse cx="708" cy="814.800" rx="2.300" ry="3.200" transform="rotate(-25 708 814.800)" fill="#0a0a0a"/>
<ellipse cx="727.200" cy="813.900" rx="2.300" ry="3.200" transform="rotate(25 727.200 813.900)" fill="#0a0a0a"/>
<!-- buttons -->
<circle cx="693.700" cy="823.600" r="1.700" fill="#e4e4ea"/>
<circle cx="693.700" cy="838.300" r="1.700" fill="#e4e4ea"/>
<!-- hands + pockets -->
<path d="M666.500 838.600 C668 833 671 829 673.600 829.200 C676.500 830.500 679 834 679.800 838.300 Z" fill="#f8bb8c"/>
<path d="M712.500 838.500 C713 834 716 830 719 828.500 C721.500 828.500 724.500 832 725.500 838 Z" fill="#f8bb8c"/>
<path d="M665.500 838.600 C670 840.400 676 840.600 681 839.200" fill="none" stroke="#eaebf0" stroke-width="1.600"/>
<path d="M711.500 839.200 C716.500 840.600 722.500 840.400 727 838.600" fill="none" stroke="#eaebf0" stroke-width="1.600"/>
<!-- ears -->
<circle cx="639.800" cy="711.500" r="6.200" fill="#f9c193"/>
<circle cx="752.600" cy="711.500" r="6.200" fill="#f9c193"/>
<!-- face -->
<path d="M644 672 C644 655 668 650 696 650 C724 650 748 655 748 672 L749 700 C749 732 726 755 696 755 C666 755 643.500 732 643.500 700 Z" fill="#f9c193"/>
<!-- hair -->
<path d="M688.300 619.900 C687 623 687.500 626 689 628 C678 628.500 668 631 661 634.500 C654 638.500 647 641 640.900 640.500 C644 643 646.500 645.500 648.500 647 C644 650 639.500 651.500 636.600 651.100 C639 653.500 641 655 643 656 C637 664 634 674 634.500 686 C634.500 693 635.500 698.500 636.800 702 C640 706 643.500 710 645.800 713.500 C646.500 706 647.500 698 649.500 690 C649 682 649.600 676 651 671 C652.500 667 655 664.500 659 664 C668 664.500 680 670 691 669.500 C703 669 713 659 725 657.500 C733 657 738.500 661 741 668 C743 676 745 683 746.500 690 C747.500 698 747 706 745 715 C748 711 751.500 707 754.200 703.500 C756 697 756.800 690 756.400 682 C756.400 668 753 656 746 646 C748.500 645 750.500 643 751.400 640.500 C748.500 641.500 746 641.800 743.500 641.500 C735 632.500 722 627 708 625.500 C701 625 694 624 688.300 619.900 Z" fill="#4e3b4a"/>
<path d="M687.500 647 C695 641.300 714 639.800 726.500 645.500 C714 642.300 697 642.800 687.500 647 Z" fill="#2a1722" stroke="#2a1722" stroke-width="0.900" stroke-linejoin="round"/>
<path d="M650.500 672 C652 666.500 655.500 663.800 660 663.800 C669 664.300 680 668.800 691 668.400 C703 667.900 713 658.300 725 657 C733 656.600 738.500 660.600 741.300 668" fill="none" stroke="#2a1722" stroke-width="2.300" stroke-linecap="round"/>
<!-- eyebrows -->
<path d="M667 691.800 C669.500 688.600 674.500 688.600 677 691.800" fill="none" stroke="#7a4e38" stroke-width="1.700" stroke-linecap="round"/>
<path d="M713.500 691.800 C716 688.600 721 688.600 723.500 691.800" fill="none" stroke="#7a4e38" stroke-width="1.700" stroke-linecap="round"/>
<!-- glasses -->
<path d="M636.800 703.200 L657 696 L657.500 700 L637.600 705.200 Z M755.300 703.200 L735.500 696 L735 700 L754.500 705.200 Z" fill="#151515" stroke="#151515" stroke-width="1.200" stroke-linejoin="round"/>
<path d="M657.800 697.200 C665 694.700 682 694.900 689.300 697.400 C691.300 703 689 711 684.500 713.500 C677 716 667 715.500 661.500 712.500 C657.700 709 656.300 702 657.800 697.200 Z" fill="#f7d3c0" stroke="#151515" stroke-width="3.100" stroke-linejoin="round"/>
<path d="M734.900 697.200 C727.700 694.700 710.700 694.900 703.400 697.400 C701.400 703 703.700 711 708.200 713.500 C715.700 716 725.700 715.500 731.200 712.500 C735 709 736.400 702 734.900 697.200 Z" fill="#f7d3c0" stroke="#151515" stroke-width="3.100" stroke-linejoin="round"/>
<path d="M655.800 695.600 C665 692.900 683 693.200 691 696.200 L690.500 699 C682 696.800 665 696.600 656.500 698.800 Z M736.900 695.600 C727.700 692.900 709.700 693.200 701.700 696.200 L702.200 699 C710.700 696.800 727.700 696.600 736.200 698.800 Z" fill="#151515"/>
<path d="M689.500 699 C693.500 696.200 699.200 696.200 703.200 699" stroke="#151515" stroke-width="3.200" fill="none"/>
<ellipse cx="671.300" cy="703.700" rx="2.600" ry="4" fill="#5b5258"/>
<ellipse cx="718.900" cy="703.700" rx="2.600" ry="4" fill="#5b5258"/>
<path d="M662.500 701 L662.500 708.500 M728 701 L728 708.500" stroke="#fdeee6" stroke-width="1.300" stroke-linecap="round" opacity="0.8"/>
<!-- nose -->
<path d="M691.300 706.500 C686.500 711 686.300 716.500 690.300 718.800 C692.800 720 695.300 719.400 696.600 717.800 C692.600 716.800 690.300 712.500 691.300 706.500 Z" fill="#e8a07f"/>
<!-- mouth -->
<path d="M674.900 726.200 C686 731.500 704 731 714.700 724.800 C712.500 736 705 743.800 695.600 744 C686 744 678 737 674.900 726.200 Z" fill="#9c1c22"/>
<path d="M676.500 727.200 C687 731.800 703 731.400 713.400 726 C712.800 729.500 711.800 732 710.500 734 C701 737.500 688 737.500 679.500 734.500 C678 732.500 677 730 676.500 727.200 Z" fill="#ffffff"/>
<path d="M684 740 C689 736.800 701 736.600 706.500 739.600 C703.500 742.500 699.500 744 695.600 744 C691 744 687 742.500 684 740 Z" fill="#e9676b"/>
</g>
<g id="female">
<!-- shoes -->
<path d="M849.500 1012 C851 1007 856 1004 862 1001 C866 999 870 997 872.300 996.600 C873 1003 872.600 1011 871.400 1018.500 L869.600 1018.500 L868.800 1008.500 C865 1014 858 1018.800 852 1019.400 C849 1019 848.200 1015.500 849.500 1012 Z" fill="#ffffff" stroke="#dcdfe4" stroke-width="1.100"/>
<path d="M918.600 1010.500 C916 1005.500 909 1003 903 1000.500 C899 998.500 895 997 892.300 996.600 C891.800 1003 893.500 1010 896 1016.500 L897.800 1016.500 L897.500 1008 C901.500 1013 909 1016.800 915.500 1017.400 C918.500 1017 919.800 1013.800 918.600 1010.500 Z" fill="#ffffff" stroke="#dcdfe4" stroke-width="1.100"/>
<path d="M869.800 997 L870.300 1016 L866.800 1016 C867.500 1009 868.500 1002 869.800 997 Z" fill="#c3cacf"/>
<path d="M894.500 997 L900 1015.500 L896.500 1015.500 C895.500 1009 894.800 1003 894.500 997 Z" fill="#c3cacf"/>
<path d="M848.600 1013.500 C849 1018 853 1020 858 1018.600 C862 1017.400 865 1015 867 1012" fill="none" stroke="#cfd5d9" stroke-width="1.600" stroke-linecap="round"/>
<path d="M919.400 1011.500 C919.400 1016 915.500 1018 910.500 1016.800 C906.500 1015.800 903 1013.500 900.500 1010.500" fill="none" stroke="#cfd5d9" stroke-width="1.600" stroke-linecap="round"/>
<!-- legs -->
<path d="M853.600 936 L871.500 936 C871.500 955 870.800 972 870.200 988.400 C870.600 991 871 993 871.300 995 C868 1000 863 1005 858.500 1007.600 C856 1007.600 853.800 1006 853.200 1004 C856 999 859.500 994 860.900 988.400 C858 972 854.500 955 853.600 936 Z" fill="#c58d6e"/>
<path d="M881.700 936 L899.600 936 C900 955 900.500 972 900.500 988.400 C903 993 908 999.500 911.900 1004 C911 1005.800 909 1006.500 906.700 1006.100 C901.500 1004 896.500 1000.500 893.200 996.800 C892.800 994 892.400 991 892.100 988.400 C888 972 883 955 881.700 936 Z" fill="#c58d6e"/>
<!-- skirt -->
<path d="M842.100 916 L907.100 916 L907.100 935.300 C886 938 864 938.500 843.100 936.300 Z" fill="#1f6cb5"/>
<!-- raised arm sleeve -->
<path d="M896 799 C908 802 920 809 934 812 C944 813.500 950 808 953.500 792 L963 794.500 C962.500 812 956 828 941 833 C928 836 914 832 903 826 Z" fill="#ffffff" stroke="#eaebf0" stroke-width="1.300" stroke-linejoin="round"/>
<!-- coat body -->
<path d="M864 792.500 C852 795 842 798 835.900 803 C828 815 821 830 819.200 842.500 C818 852 818.500 861 819.200 867.500 C822 873 827 877 833 878.500 L839 877.500 C838 890 836.500 903 834.800 915.500 C847 917.500 860 918.500 872 918.800 L872.600 872 L874.200 872 L874.800 918.800 C889 918 904 916 916.500 913.400 C914 890 910.500 862 906.700 834.200 C905.500 822 903 810 898 801 C892 796 884 793.500 876 792.500 Z" fill="#ffffff" stroke="#eaebf0" stroke-width="1.300" stroke-linejoin="round"/>
<path d="M872.500 871 L874.300 871 L875 918.600 L872 918.600 Z" fill="#1f6cb5"/>
<!-- neck + blouse -->
<path d="M862 786 L880 786 L881.500 796 L872 812 L861.500 796 Z" fill="#c08464"/>
<path d="M860.800 794 L866 811 L878 811 L882.600 794 L872.200 808.500 Z" fill="#2a6cb6"/>
<!-- stethoscope neck -->
<path d="M852.500 810.500 C852 802 856 795.500 863.500 792" fill="none" stroke="#1f64b2" stroke-width="1.700"/>
<path d="M880.500 792 C888 795 893 801 894.500 808 C897 820 900.500 834 902.500 846.700" fill="none" stroke="#1f64b2" stroke-width="1.700"/>
<!-- clipboard -->
<path d="M833.800 810.600 L898.400 810.600 L899.400 861.300 L844.200 862.600 Z" fill="#f1f1f2" stroke="#e0e0e3" stroke-width="0.800"/>
<path d="M841.500 850 L844.200 862.600 L866 862 Z" fill="#d9d9dc"/>
<circle cx="904.200" cy="854" r="6" fill="#c9ccd6" stroke="#b6bac3" stroke-width="0.800"/>
<circle cx="904.200" cy="854" r="3.500" fill="#e4e6ee" stroke="#2a4fa8" stroke-width="1.300"/>
<!-- left arm over -->
<path d="M835.900 803 C828 815 821 830 819.200 842.500 C818 852 818.500 861 819.200 867.500 C822 873 827 877 833 878.500 C842 877.500 852 875 861 871.700 L858 859 C850 861 842 861.500 836.500 860.500 C835 850 836 838 838.500 826" fill="#ffffff" stroke="#eaebf0" stroke-width="1.300" stroke-linejoin="round"/>
<!-- glove on clipboard -->
<path d="M857 860 C859 857 864 856 868 856.500 C871 855.500 875 856 878.500 857.500 C880 859 879 861 877 862 C876 866 873 870.500 868.500 873.500 C864 874 860 871 858 867 C856.500 865 856.300 862 857 860 Z" fill="#80cbd7"/>
<!-- earpieces -->
<path d="M864 880.500 C868 881 871 878 872.500 873 M873 872 L877.500 875" fill="none" stroke="#a9adb6" stroke-width="1.200"/>
<ellipse cx="862.300" cy="881.100" rx="2.200" ry="3" transform="rotate(-35 862.300 881.100)" fill="#0a0a0a"/>
<ellipse cx="878.600" cy="875.500" rx="2.100" ry="3" transform="rotate(15 878.600 875.500)" fill="#0a0a0a"/>
<!-- pockets -->
<path d="M848 883 C852 885 857 885.500 861 884.500" fill="none" stroke="#e3e4e8" stroke-width="1.600"/>
<path d="M888 882 C892 884.500 897 885 900.500 883.500" fill="none" stroke="#e3e4e8" stroke-width="1.600"/>
<!-- raised hand -->
<path d="M952.500 791.500 L961.500 789.500 L960 783.500 L952 786 Z" fill="#b0775a"/>
<path d="M935 768.500 C936 766.500 938.500 766.800 940 768.300 L942.500 771.500 L939.500 764.500 C939 762.300 941.500 761.300 943 763 L946.500 768 L943.500 760.500 C943.500 758.300 946.500 757.800 947.800 759.800 C952.500 766 957.500 774 960 782.500 C960.500 785.500 959 787.800 956 788.300 C952 788.800 948 787.500 946.500 784.500 C943 785 939.500 784.500 937.500 782.500 L944 778 C944 775 940 771.500 935 768.500 Z" fill="#80cbd7"/>
<path d="M934.800 772.500 L943.500 772.500 L944 781 C941 782.500 937.500 782.500 934.800 781 Z" fill="#e0272e"/>
<path d="M937 765.500 L941.500 765.500 L941.800 772.500 L936.600 772.500 Z" fill="#e9524a"/>
<path d="M937.800 763 L940.800 763 L941 766 L937.600 766 Z" fill="#f0a23a"/>
<path d="M934.800 771.800 L943.500 771.800 L943.500 775 L934.800 775 Z" fill="#f6d9d4"/>
<!-- bun -->
<path d="M872.500 664 C873 652 886 642.500 903 642 C908 640.500 912 641 915.500 644 C926 648 933.500 657 934 669 C934.200 678 931 686 926 690 C910 684 890 672 872.500 664 Z" fill="#3b2e2b"/>
<path d="M875 660 C879 650 891 642.800 904 642.600 C909 642.400 913 643.600 916 646.500 C908 645.500 901 647 896 650 C888 651 881 655 875 660 Z" fill="#0c0a0a"/><path d="M903 642.800 C908 642 912.500 644 915.500 647.500 C911.500 647.500 907.500 648.500 904.500 650.500 Z" fill="#0c0a0a"/>
<path d="M913.500 658.500 C921 663 926 672 926 682.500 C923.500 673.500 919.500 665 913.500 658.500 Z" fill="#6b5b57" stroke="#6b5b57" stroke-width="1"/>
<path d="M912 647 C922 651 930 659 931.500 670 C932 678 930 684 926.500 688.500" fill="none" stroke="#0c0a0a" stroke-width="1.400"/>
<!-- ears -->
<circle cx="813.800" cy="748.300" r="5.600" fill="#c58d6e"/>
<circle cx="933" cy="753" r="5.600" fill="#c58d6e"/>
<!-- face -->
<path d="M818 729 C818 700 842 688 872 688 C902 688 927 704 927 736 C927 768 903 791.500 871 791.500 C840 791.500 818 766 818 729 Z" fill="#c58d6e"/>
<!-- hair -->
<path d="M870.200 663.100 C853 663.500 836 670 825 682 C814 694 808.500 708 809.400 722 C809.500 738 812 752 818.500 760 C819.500 763 819 766 817.500 768 C821 766.500 823 763 823 759 C820 750 818.500 740 818.500 729.500 C850 721 880 708 901 694.500 C912 704 921 718 924 734 C926 748 925 760 921 768 C923 771 926 773 929.500 773.500 C927 770 926.500 766 927.500 762 C933 752 937.500 738 937.300 724 C937 708 932 692 922 680 C910 668 892 663 870.200 663.100 Z" fill="#3b2e2b"/>
<path d="M818.500 729.500 C850 721 880 708 901 694.500 C897 695 893 696 889 697.500 C868 708 842 720 817.500 727.500 Z" fill="#0c0a0a"/>
<path d="M870.200 663.100 C853 663.500 836 670 825 682 C814 694 808.500 708 809.400 722 C809.500 738 812 752 818.500 760" fill="none" stroke="#0c0a0a" stroke-width="1.300"/>
<path d="M901 694.500 C912 704 921 718 924 734 C926 748 925 760 921 768" fill="none" stroke="#0c0a0a" stroke-width="1.600"/>
<path d="M827.500 696.500 C846 702 870 698.500 892 685.500 C871 702.500 845 706.500 827.500 696.500 Z" fill="#6b5b57"/>
<!-- headband -->
<path d="M872.500 661 C893 658.500 915 667.500 929.500 686.500 L927 689.500 C912 672.500 892 664.500 872.500 664.800 Z" fill="#2a6bb5"/>
<!-- eyebrows -->
<path d="M840.300 725.800 C843.500 722.300 848.500 722.300 851.800 725.300" fill="none" stroke="#8a5a3c" stroke-width="1.800" stroke-linecap="round"/>
<path d="M892.300 725.800 C895.500 722.300 900.500 722.300 903.800 725.300" fill="none" stroke="#8a5a3c" stroke-width="1.800" stroke-linecap="round"/>
<!-- eyes -->
<ellipse cx="845.400" cy="739.300" rx="3.600" ry="4.800" fill="#0c0a0a"/>
<ellipse cx="895.600" cy="739.300" rx="3.600" ry="4.800" fill="#0c0a0a"/>
<path d="M842.500 736 L840.200 733.400 M843.500 735 L842.200 732 " stroke="#0c0a0a" stroke-width="1" stroke-linecap="round"/>
<path d="M898.500 736 L900.800 733.400 M897.500 735 L899 732" stroke="#0c0a0a" stroke-width="1" stroke-linecap="round"/>
<!-- cheeks -->
<ellipse cx="840" cy="750.300" rx="8.200" ry="4.400" fill="#e08a8a" opacity="0.600"/>
<ellipse cx="896.200" cy="751.600" rx="8.200" ry="4.400" fill="#e08a8a" opacity="0.600"/>
<!-- nose -->
<path d="M867.600 742.600 C861.500 744.500 859.800 752 864.300 755.300 C866.300 756.600 868.600 756.200 869.600 755 C865.300 754.300 863.800 748.500 867.600 742.600 Z" fill="#a0694c"/>
<!-- mouth -->
<path d="M850.700 762.300 C861 765.500 873 765.500 883.200 763.300 C880 772 874.500 778 867 778.300 C859.500 778 854 772 850.700 762.300 Z" fill="#b8232d"/>
<path d="M851.500 762.600 C861 765.800 873 765.800 882.500 763.600 C882 765 881.500 766 881 767 C872 769 861 769 853 766.800 C852.500 765.500 852 764 851.500 762.600 Z" fill="#ffffff"/>
<path d="M857 773.500 C862 770 872 770 877.500 773 C874.500 776.500 871 778.200 867 778.300 C863 778.200 859.500 776.500 857 773.500 Z" fill="#ea686c"/>
</g>

<path d="M330.0 1183.6 C348.3 1183.4 408.0 1183.4 440.0 1182.4 C472.0 1181.4 499.2 1179.0 522.0 1177.5 C544.8 1176.0 558.4 1174.9 576.6 1173.1 C594.8 1171.3 613.1 1168.8 631.3 1166.6 C649.5 1164.4 668.6 1162.2 686.0 1160.0 C703.4 1157.8 721.4 1156.0 735.8 1153.7 C750.2 1151.4 762.1 1148.3 772.6 1146.3 C783.1 1144.3 790.1 1143.3 798.9 1141.6 C807.7 1139.9 816.5 1138.1 825.3 1136.3 C834.1 1134.5 842.8 1132.5 851.6 1130.5 C860.4 1128.5 869.1 1126.8 877.9 1124.5 C886.7 1122.2 895.4 1119.3 904.2 1116.8 C913.0 1114.3 921.7 1112.1 930.5 1109.5 C939.3 1106.9 950.3 1103.1 956.8 1101.0 C963.3 1098.9 967.4 1097.8 969.5 1097.1 L969.5 1183.6 Z" fill="url(#greyfade)"/>
<path d="M735.8 1153.7 C737.5 1153.2 740.2 1152.4 746.3 1151.0 C752.4 1149.6 763.8 1147.4 772.6 1145.5 C781.4 1143.6 790.1 1141.8 798.9 1139.7 C807.7 1137.7 816.5 1135.5 825.3 1133.2 C834.1 1130.9 842.8 1128.5 851.6 1125.8 C860.4 1123.1 869.1 1120.0 877.9 1116.8 C886.7 1113.6 895.4 1110.2 904.2 1106.8 C913.0 1103.4 921.7 1100.0 930.5 1096.3 C939.3 1092.6 950.3 1087.4 956.8 1084.5 C963.3 1081.6 967.4 1079.7 969.5 1078.7 L969.5 1097.1 C967.4 1097.8 963.3 1098.9 956.8 1101.0 C950.3 1103.1 939.3 1106.9 930.5 1109.5 C921.7 1112.1 913.0 1114.3 904.2 1116.8 C895.4 1119.3 886.7 1122.2 877.9 1124.5 C869.1 1126.8 860.4 1128.5 851.6 1130.5 C842.8 1132.5 834.1 1134.5 825.3 1136.3 C816.5 1138.1 807.7 1139.9 798.9 1141.6 C790.1 1143.3 781.4 1144.6 772.6 1146.3 C763.8 1148.0 752.4 1150.4 746.3 1151.6 C740.2 1152.8 737.5 1153.3 735.8 1153.7 Z" fill="url(#swoosh)"/>
<g font-size="19.05">
<text class="nar" x="27.4" y="1071.4" textLength="840.6" lengthAdjust="spacingAndGlyphs">Note: 1. Data include not only doctors providing direct care to patients, but also those working in the health sector as</text>
<text class="nar" x="28" y="1095.1" textLength="877.6" lengthAdjust="spacingAndGlyphs">managers, educators, researchers, etc. (adding another 5-10% of doctors). 2. Data refer to all doctors licensed to practice</text>
<text class="nar" x="28" y="1118.8" textLength="719" lengthAdjust="spacingAndGlyphs">(resulting in a large over-estimation of the number of practising doctors in Portugal, of around 30%).</text>
<text class="nar" x="27.6" y="1142.9" textLength="175" lengthAdjust="spacingAndGlyphs">Illustration: Shutterstock</text>
<text class="nar" x="28" y="1166.6" textLength="569.6" lengthAdjust="spacingAndGlyphs">Source: OECD Health Statistics 2015, http://dx.doi.org/10.1787/health-data-en.</text>
</g>
<g id="oecdlogo">
<defs><radialGradient id="globe" cx="0.42" cy="0.38" r="0.68"><stop offset="0" stop-color="#3f8fd0"/><stop offset="0.55" stop-color="#1a62ab"/><stop offset="1" stop-color="#0c3b78"/></radialGradient></defs>
<circle cx="861.4" cy="1155.5" r="12.5" fill="url(#globe)"/>
<path d="M850.5 1152 c1.500 -3.500 4 -5.500 7 -6.200 l3 1.200 l-1 2.200 l1.800 1.200 l-1.200 2.400 l-2.600 0.600 l-1 2.800 l-2.400 1 l-1.600 -2.200 l-2.400 -0.400 z M863.500 1146.500 l3.600 -0.600 l3.200 2.200 l1.400 3 l-1.800 2.400 l-2.400 -0.600 l-1.200 2.400 l-2.200 -1.200 l0.400 -2.600 l-1.800 -1.600 z M857.500 1158.500 l2.600 0.800 l1 2.800 l-1.600 2.600 l-2 -1.600 z M866 1158.500 l2.400 -0.800 l1.600 1.800 l-1.200 2.200 l-2.200 -0.600 z" fill="#a9c9e4" opacity="0.9"/>
<g transform="translate(875.60 1144.10)"><path d="M0 0 L2.2 0 L6.2 10.6 L6.2 11.8 L2.9 11.8 L0 4.4 Z" fill="#8cc63f"/><path d="M2.9 11.8 L6.2 11.8 L6.2 13 L2.2 23.6 L0 23.6 L0 19.2 Z" fill="#6d6e71"/></g>
<g transform="translate(881.90 1144.10)"><path d="M0 0 L2.2 0 L6.2 10.6 L6.2 11.8 L2.9 11.8 L0 4.4 Z" fill="#8cc63f"/><path d="M2.9 11.8 L6.2 11.8 L6.2 13 L2.2 23.6 L0 23.6 L0 19.2 Z" fill="#6d6e71"/></g>
<text x="890.9" y="1163.8" font-size="23.3" textLength="65" lengthAdjust="spacingAndGlyphs" fill="#6d6e71" stroke="#6d6e71" stroke-width="0.45">OECD</text>
</g>
</svg>
</body>
</html>
